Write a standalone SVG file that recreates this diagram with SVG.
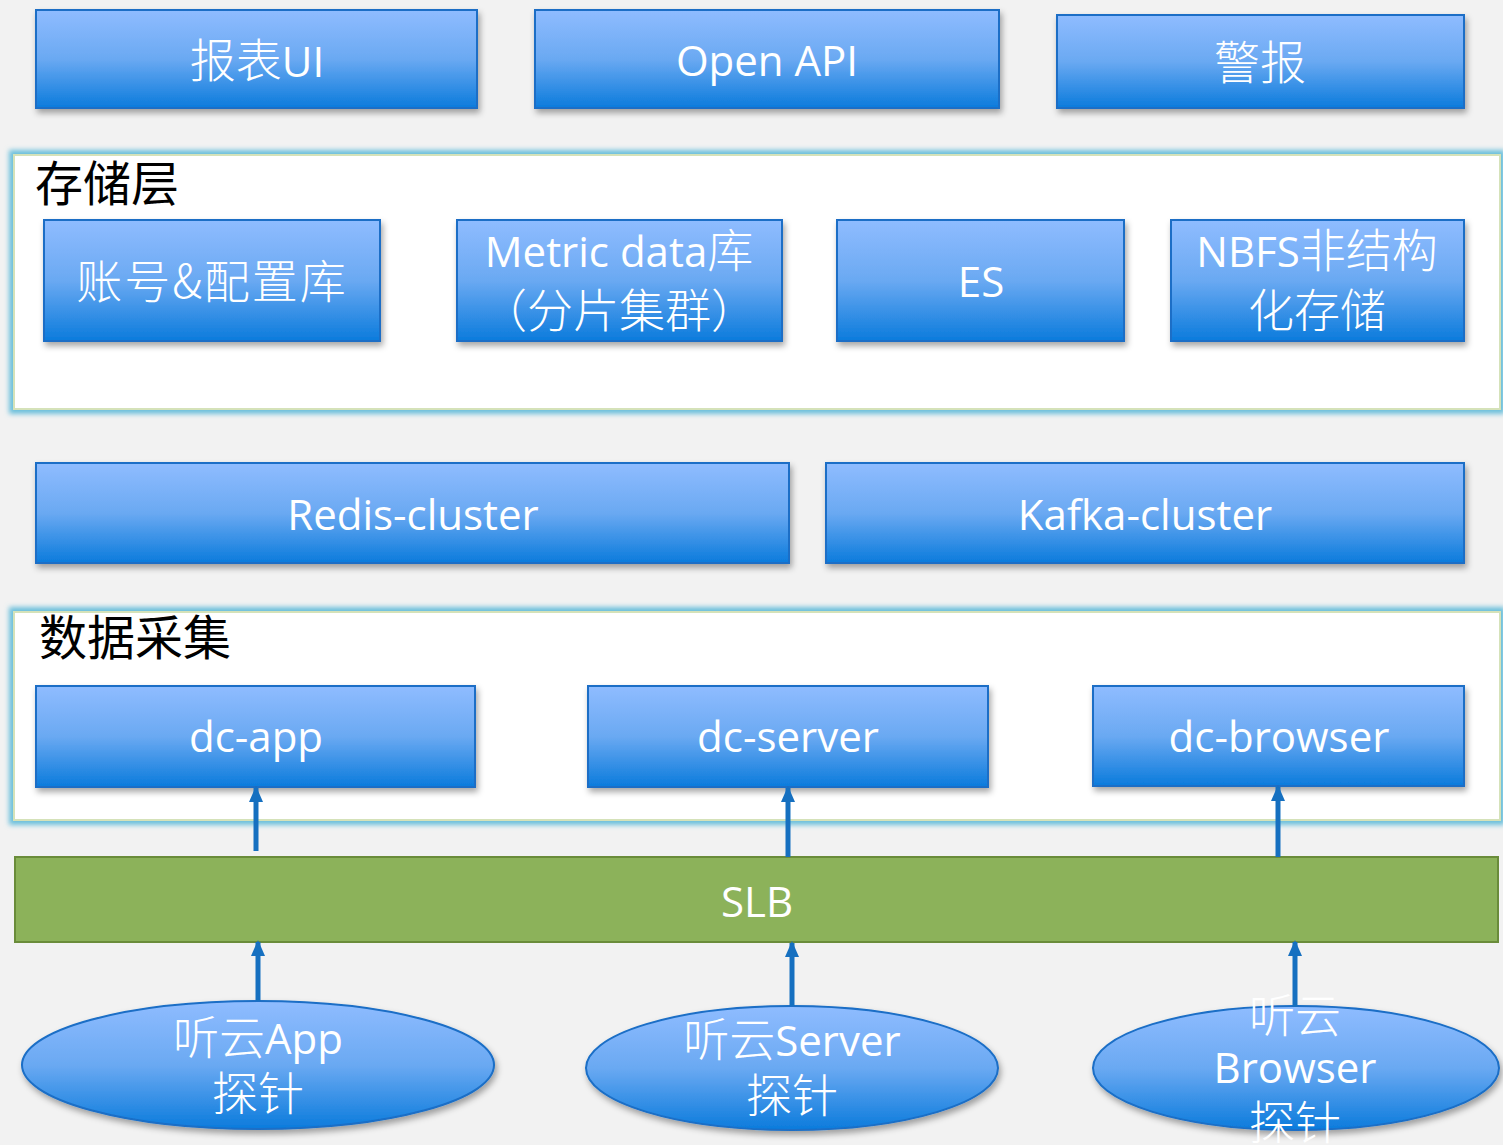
<svg xmlns="http://www.w3.org/2000/svg" width="1503" height="1145" viewBox="0 0 1503 1145">
<defs>
<linearGradient id="bg" x1="0" y1="0" x2="0" y2="1">
<stop offset="0" stop-color="#8fbcff"/>
<stop offset="0.5" stop-color="#6aa9f2"/>
<stop offset="1" stop-color="#0b7bdc"/>
</linearGradient>
<filter id="sh" x="-5%" y="-10%" width="110%" height="130%">
<feDropShadow dx="2" dy="4" stdDeviation="3" flood-color="#000" flood-opacity="0.35"/>
</filter>
<filter id="glow" x="-5%" y="-10%" width="110%" height="130%">
<feGaussianBlur stdDeviation="2.5"/>
</filter>
<marker id="ah" markerWidth="16" markerHeight="16" refX="14" refY="8" orient="auto" markerUnits="userSpaceOnUse" viewBox="0 0 16 16">
<path d="M0,1 L16,8 L0,15 Z" fill="#1670c0"/>
</marker>
</defs>
<style>
.box{fill:url(#bg);stroke:#1a6ec6;stroke-width:2;filter:url(#sh)}
.t{fill:#fff;font-family:"Open Sans","Noto Sans CJK SC",sans-serif;font-size:42px;text-anchor:middle}
.cj{font-family:"Noto Sans CJK SC",sans-serif;font-size:46px;font-weight:300}
.h{fill:#000;font-family:"Noto Sans CJK SC",sans-serif;font-size:48px}
.c{fill:none;stroke:#1670c0;stroke-width:5;marker-end:url(#ah)}
.gl{fill:none;stroke:#6cc0dc;stroke-width:10;filter:url(#glow)}
.pn{fill:#fff;stroke:#d5e2b9;stroke-width:2}
</style>
<rect width="1503" height="1145" fill="#f2f2f2"/>

<g id="storage-layer">
<rect class="gl" x="14" y="155" width="1486" height="254"/>
<rect class="pn" x="14" y="155" width="1486" height="254"/>
<text class="h" x="35" y="201">存储层</text>
</g>
<g id="data-collection">
<rect class="gl" x="14" y="612" width="1486" height="208"/>
<rect class="pn" x="14" y="612" width="1486" height="208"/>
<text class="h" x="39" y="655">数据采集</text>
</g>

<g id="report-ui"><rect class="box" x="36" y="10" width="441" height="98"/><text class="t" x="257" y="77"><tspan class="cj">报表</tspan>UI</text></g>
<g id="open-api"><rect class="box" x="535" y="10" width="464" height="98"/><text class="t" x="767" y="76">Open API</text></g>
<g id="alert"><rect class="box" x="1057" y="15" width="407" height="93"/><text class="t cj" x="1260" y="79">警报</text></g>

<g id="account-config"><rect class="box" x="44" y="220" width="336" height="121"/><text class="t cj" x="212" y="298" letter-spacing="2">账号&amp;配置库</text></g>
<g id="metric-data"><rect class="box" x="457" y="220" width="325" height="121"/><text class="t" x="619" y="267">Metric data<tspan class="cj">库</tspan></text><text class="t cj" x="619" y="327">（分片集群）</text></g>
<g id="es"><rect class="box" x="837" y="220" width="287" height="121"/><text class="t" x="981" y="297">ES</text></g>
<g id="nbfs"><rect class="box" x="1171" y="220" width="293" height="121"/><text class="t" x="1317" y="267">NBFS<tspan class="cj">非结构</tspan></text><text class="t cj" x="1317" y="327">化存储</text></g>

<g id="redis-cluster"><rect class="box" x="36" y="463" width="753" height="100"/><text class="t" x="413" y="530">Redis-cluster</text></g>
<g id="kafka-cluster"><rect class="box" x="826" y="463" width="638" height="100"/><text class="t" x="1145" y="530">Kafka-cluster</text></g>

<g id="dc-app"><rect class="box" x="36" y="686" width="439" height="101"/><text class="t" x="256" y="752">dc-app</text></g>
<g id="dc-server"><rect class="box" x="588" y="686" width="400" height="101"/><text class="t" x="788" y="752">dc-server</text></g>
<g id="dc-browser"><rect class="box" x="1093" y="686" width="371" height="100"/><text class="t" x="1279" y="752">dc-browser</text></g>

<g id="slb"><rect x="15" y="857" width="1483" height="85" fill="#8cb25a" stroke="#6a8c3a" stroke-width="2"/><text class="t" x="757" y="917">SLB</text></g>

<g id="probe-app"><ellipse class="box" cx="258" cy="1065" rx="236" ry="64"/><text class="t" x="258" y="1054"><tspan class="cj">听云</tspan>App</text><text class="t cj" x="258" y="1110">探针</text></g>
<g id="probe-server"><ellipse class="box" cx="792" cy="1068" rx="206" ry="62"/><text class="t" x="792" y="1056"><tspan class="cj">听云</tspan>Server</text><text class="t cj" x="792" y="1112">探针</text></g>
<g id="probe-browser"><ellipse class="box" cx="1296" cy="1068" rx="203" ry="62"/><text class="t cj" x="1295" y="1032">听云</text><text class="t" x="1295" y="1083">Browser</text><text class="t cj" x="1295" y="1139">探针</text></g>

<g id="connectors">
<line class="c" x1="256" y1="851" x2="256" y2="788"/>
<line class="c" x1="788" y1="857" x2="788" y2="788"/>
<line class="c" x1="1278" y1="857" x2="1278" y2="787"/>
<line class="c" x1="258" y1="1001" x2="258" y2="942"/>
<line class="c" x1="792" y1="1006" x2="792" y2="943"/>
<line class="c" x1="1295" y1="1007" x2="1295" y2="942"/>
</g>
</svg>
